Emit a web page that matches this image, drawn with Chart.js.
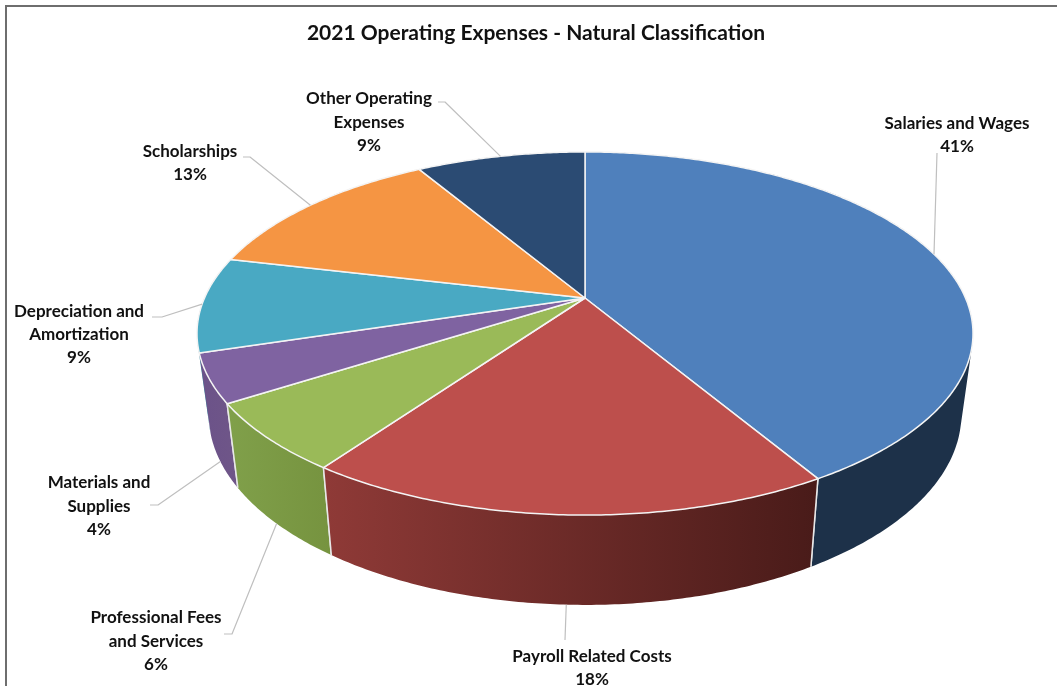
<!DOCTYPE html>
<html>
<head>
<meta charset="utf-8">
<title>2021 Operating Expenses</title>
<script src="https://cdn.jsdelivr.net/npm/chart.js@4/dist/chart.umd.min.js"></script>
<style>
  html, body { margin: 0; padding: 0; background: #fff; overflow: hidden; }
  canvas { display: block; }
</style>
</head>
<body>
<canvas id="pie" width="1057" height="686"></canvas>
<script>
// labels are rounded, the slices themselves are not
const categories = [
  "Salaries and Wages",
  "Payroll Related Costs",
  "Professional Fees and Services",
  "Materials and Supplies",
  "Depreciation and Amortization",
  "Scholarships",
  "Other Operating Expenses",
];
const values = [41.5, 18.3, 6.1, 4.3, 8.5, 12.8, 8.5];
const shownPercent = ["41%", "18%", "6%", "4%", "9%", "13%", "9%"];

const topColors = ["#4f80bc", "#bd4f4c", "#9aba58", "#7f63a1", "#49a9c3", "#f59543", "#2b4b73"];
const wallStart = ["#1d3149", "#8f3a37", "#80a04a", "#6b5289", "#3a8ba0", "#c0742f", "#1d3149"];
const wallEnd = ["#1d3149", "#491b19", "#76933f", "#6f5688", "#3a8ba0", "#c0742f", "#1d3149"];

// label layout: wrapped lines, centre x, line y's, leader start and elbow
const labelLayout = [
  { lines: ["Salaries and Wages"], x: 957, y: [124, 147], from: [937, 153] },
  { lines: ["Payroll Related Costs"], x: 592, y: [657, 680], from: [565, 640] },
  { lines: ["Professional Fees", "and Services"], x: 156, y: [618, 642, 665], from: [224, 634], elbow: [232, 634] },
  { lines: ["Materials and", "Supplies"], x: 99, y: [483, 507, 530], from: [150, 505], elbow: [158, 505] },
  { lines: ["Depreciation and", "Amortization"], x: 79, y: [312, 335, 358], from: [152, 317], elbow: [162, 317] },
  { lines: ["Scholarships"], x: 190, y: [152, 175], from: [243, 157], elbow: [250, 157] },
  { lines: ["Other Operating", "Expenses"], x: 369, y: [99, 123, 146], from: [438, 102], elbow: [445, 102] },
];

// perspective view of the disc
const view = { apexX: 585, apexY: 298, a: 380.5, b: 174.6, k: 0.1956, wallDrop: 79, wallSx: 0.97, wallSy: 1.05 };

function topPoint(angle) {
  const t = angle + Math.PI / 2;
  const u = Math.sin(t);
  const v = -Math.cos(t);
  const w = 1 - view.k * v;
  return [view.apexX + view.a * u / w, view.apexY + view.b * v / w];
}

function bottomPoint(angle) {
  const p = topPoint(angle);
  return [
    view.apexX + (p[0] - view.apexX) * view.wallSx,
    view.apexY + view.wallDrop + (p[1] - view.apexY) * view.wallSy,
  ];
}

function ringAngles(start, end) {
  const n = Math.max(2, Math.ceil((end - start) / 0.01));
  const out = [];
  for (let i = 0; i <= n; i++) out.push(start + (end - start) * i / n);
  return out;
}

// how far towards the viewer an angle is (1 = front, -1 = back)
function depth(angle) {
  return -Math.cos(angle + Math.PI / 2);
}

function signedArea(pts) {
  let sum = 0;
  pts.forEach((p, j) => {
    const q = pts[(j + 1) % pts.length];
    sum += p[0] * q[1] - q[0] * p[1];
  });
  return sum;
}

function drawWall(ctx, arc, i) {
  const angles = ringAngles(arc.startAngle, arc.endAngle);
  const top = angles.map(topPoint);
  const bottom = angles.map(bottomPoint);
  const xs = top.concat(bottom).map((p) => p[0]);
  const left = Math.min(...xs);
  const right = Math.max(...xs);
  const grad = ctx.createLinearGradient(left, 0, right, 0);
  grad.addColorStop(0, wallStart[i]);
  grad.addColorStop(1, wallEnd[i]);

  // one quad per step, all wound the same way in one path: the rings cross
  // at the sides, a single ribbon would lose the edge there
  ctx.beginPath();
  for (let j = 0; j < top.length - 1; j++) {
    const quad = [top[j], top[j + 1], bottom[j + 1], bottom[j]];
    if (signedArea(quad) < 0) quad.reverse();
    quad.forEach((p, n) => (n ? ctx.lineTo(p[0], p[1]) : ctx.moveTo(p[0], p[1])));
    ctx.closePath();
  }
  ctx.fillStyle = grad;
  ctx.fill();

  ctx.strokeStyle = "#e8e8e8";
  ctx.lineWidth = 1.5;
  ;[arc.startAngle, arc.endAngle].forEach((a) => {
    if (depth(a) < 0.35) return;
    const p = topPoint(a);
    const q = bottomPoint(a);
    ctx.beginPath();
    ctx.moveTo(p[0], p[1]);
    ctx.lineTo(q[0], q[1]);
    ctx.stroke();
  });
}

function drawTop(ctx, arc, i) {
  ctx.beginPath();
  ctx.moveTo(view.apexX, view.apexY);
  ringAngles(arc.startAngle, arc.endAngle).forEach((a) => {
    const p = topPoint(a);
    ctx.lineTo(p[0], p[1]);
  });
  ctx.closePath();
  ctx.fillStyle = topColors[i];
  ctx.fill();
  ctx.strokeStyle = "#f4f4f4";
  ctx.lineWidth = 1.5;
  ctx.lineJoin = "round";
  ctx.stroke();
}

function drawLabel(ctx, arc, i) {
  const item = labelLayout[i];
  const mid = (arc.startAngle + arc.endAngle) / 2;
  const end = depth(mid) > 0.3 ? bottomPoint(mid) : topPoint(mid);

  ctx.beginPath();
  ctx.moveTo(item.from[0], item.from[1]);
  if (item.elbow) ctx.lineTo(item.elbow[0], item.elbow[1]);
  ctx.lineTo(end[0], end[1]);
  ctx.strokeStyle = "#bfbfbf";
  ctx.lineWidth = 1.2;
  ctx.stroke();

  ctx.fillStyle = "#111";
  ctx.font = "bold 17px Lato";
  ctx.textAlign = "center";
  ctx.textBaseline = "middle";
  item.lines.concat(shownPercent[i]).forEach((line, j) => {
    ctx.fillText(line, item.x, item.y[j]);
  });
}

const pie3d = {
  id: "pie3d",
  beforeDatasetsDraw(chart) {
    const ctx = chart.ctx;
    const arcs = chart.getDatasetMeta(0).data;
    ctx.save();
    arcs
      .map((arc, i) => ({ arc, i }))
      .sort((p, q) => depth((p.arc.startAngle + p.arc.endAngle) / 2) - depth((q.arc.startAngle + q.arc.endAngle) / 2))
      .forEach((s) => drawWall(ctx, s.arc, s.i));
    arcs.forEach((arc, i) => drawTop(ctx, arc, i));
    arcs.forEach((arc, i) => drawLabel(ctx, arc, i));
    ctx.restore();
    return false;
  },
};

const frame = {
  id: "frame",
  afterDraw(chart) {
    const ctx = chart.ctx;
    ctx.save();
    ctx.strokeStyle = "#6e6e6e";
    ctx.lineWidth = 2;
    ctx.beginPath();
    ctx.moveTo(6, 686);
    ctx.lineTo(6, 6);
    ctx.lineTo(1057, 6);
    ctx.stroke();
    ctx.restore();
  },
};

new Chart(document.getElementById("pie"), {
  type: "pie",
  data: {
    labels: categories,
    datasets: [{ data: values, backgroundColor: topColors }],
  },
  options: {
    responsive: false,
    animation: false,
    layout: { padding: { left: 15 } },
    events: [],
    plugins: {
      legend: { display: false },
      tooltip: { enabled: false },
      title: {
        display: true,
        text: "2021 Operating Expenses - Natural Classification",
        color: "#111",
        font: { family: "Lato", size: 21, weight: "bold" },
        padding: { top: 21, bottom: 10 },
      },
    },
  },
  plugins: [pie3d, frame],
});
</script>
</body>
</html>
